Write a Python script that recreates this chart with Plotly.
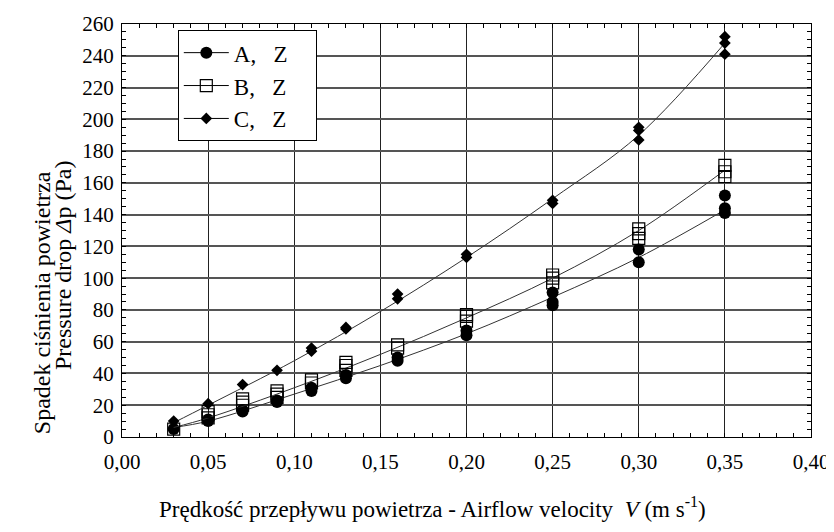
import plotly.graph_objects as go

xa = [0.03, 0.05, 0.05, 0.07, 0.07, 0.09, 0.09, 0.11, 0.11, 0.13, 0.13,
      0.16, 0.16, 0.20, 0.20, 0.25, 0.25, 0.25, 0.30, 0.30, 0.35, 0.35, 0.35]
ya = [5, 10, 11, 16, 17, 22, 23, 29, 31, 37, 39,
      48, 50, 64, 67, 83, 85, 91, 110, 118, 141, 144, 152]

xb = [0.03, 0.05, 0.05, 0.05, 0.07, 0.07, 0.07, 0.09, 0.09, 0.09, 0.11, 0.11,
      0.13, 0.13, 0.13, 0.16, 0.16, 0.20, 0.20, 0.20, 0.25, 0.25, 0.25,
      0.30, 0.30, 0.30, 0.35, 0.35, 0.35]
yb = [5, 12, 14, 16, 20, 22, 24, 25, 27, 29, 34, 36,
      42, 45, 47, 56, 58, 73, 76, 77, 97, 100, 102,
      125, 128, 131, 164, 167, 171]

xc = [0.03, 0.05, 0.07, 0.09, 0.11, 0.11, 0.13, 0.13, 0.16, 0.16,
      0.20, 0.20, 0.25, 0.25, 0.30, 0.30, 0.30, 0.35, 0.35, 0.35]
yc = [10, 21, 33, 42, 54, 56, 68, 69, 87, 90,
      113, 115, 147, 149, 187, 193, 195, 241, 248, 252]

# fitted curves
xfit = [0.03, 0.05, 0.10, 0.15, 0.20, 0.25, 0.30, 0.35]
fit_a = [6, 10, 27, 45, 65, 88, 113, 143]
fit_b = [6, 12, 31, 52, 75, 100, 130, 168]
fit_c = [9, 20, 48, 79, 113, 150, 190, 248]

series_names = ["A,   Z&nbsp;&nbsp;&nbsp;&nbsp;", "B,   Z&nbsp;&nbsp;&nbsp;&nbsp;",
                "C,   Z&nbsp;&nbsp;&nbsp;&nbsp;"]
x_ticks = [0, 0.05, 0.10, 0.15, 0.20, 0.25, 0.30, 0.35, 0.40]
y_ticks = list(range(0, 261, 20))

FONT = "Liberation Serif, Times New Roman, serif"
LINE = "#333333"

fig = go.Figure()

specs = [
    (xa, ya, fit_a, series_names[0], dict(symbol="circle", size=12, color="black")),
    (xb, yb, fit_b, series_names[1], dict(symbol="square-open", size=12, color="black",
                                          line=dict(width=1.2, color="black"))),
    (xc, yc, fit_c, series_names[2], dict(symbol="diamond", size=9, color="black")),
]

for xs, ys, fit, name, mk in specs:
    fig.add_trace(go.Scatter(x=xfit, y=fit, mode="lines",
                             line=dict(color=LINE, width=1, shape="spline"),
                             showlegend=False, hoverinfo="skip"))
    fig.add_trace(go.Scatter(x=xs, y=ys, mode="markers", marker=mk, name=name,
                             showlegend=False))

for xs, ys, fit, name, mk in specs:
    fig.add_trace(go.Scatter(x=[None], y=[None], mode="lines+markers", marker=mk, name=name,
                             line=dict(color="black", width=1)))

fig.update_layout(
    width=826, height=516,
    margin=dict(l=114, r=23, t=16, b=87, autoexpand=False),
    paper_bgcolor="white", plot_bgcolor="white",
    separators=", ",
    font=dict(family=FONT, size=21, color="black"),
    showlegend=True,
    legend=dict(x=0.081, y=0.985, xanchor="left", yanchor="top",
                bgcolor="white", bordercolor="black", borderwidth=1,
                font=dict(family=FONT, size=23), itemwidth=45,
                tracegroupgap=0),
    xaxis=dict(range=[0, 0.40], tickvals=x_ticks, tickformat=".2f", automargin=False,
               showgrid=True, gridcolor="#222222", gridwidth=1,
               showline=True, linecolor="black", linewidth=1, mirror="ticks",
               ticks="inside", ticklen=0, zeroline=False, ticklabelstandoff=6,
               minor=dict(dtick=0.01, ticks="inside", ticklen=4, tickcolor="black", showgrid=False),
               tickfont=dict(family=FONT, size=21)),
    yaxis=dict(range=[0, 260], tickvals=y_ticks, automargin=False,
               showgrid=True, gridcolor="#555555", gridwidth=1.5,
               showline=True, linecolor="black", linewidth=1, mirror="ticks",
               ticks="inside", ticklen=0, zeroline=False, ticklabelstandoff=3,
               minor=dict(dtick=5, ticks="inside", ticklen=4, tickcolor="black", showgrid=False),
               tickfont=dict(family=FONT, size=21)),
    annotations=[
        dict(text="Spadek ciśnienia powietrza", xref="paper", yref="paper",
             x=0, y=0.324, xshift=-80, xanchor="center", yanchor="middle",
             textangle=-90, showarrow=False, font=dict(family=FONT, size=24)),
        dict(text="Pressure drop <i>Δ</i>p (Pa)", xref="paper", yref="paper",
             x=0, y=0.414, xshift=-59, xanchor="center", yanchor="middle",
             textangle=-90, showarrow=False, font=dict(family=FONT, size=24)),
        dict(text="Prędkość przepływu powietrza - Airflow velocity  <i>V</i> (m s<sup>-1</sup>)",
             xref="paper", yref="paper", x=0.45, y=0, yshift=-70,
             xanchor="center", yanchor="middle", showarrow=False,
             font=dict(family=FONT, size=23)),
    ],
)

fig.write_html("out.html")
